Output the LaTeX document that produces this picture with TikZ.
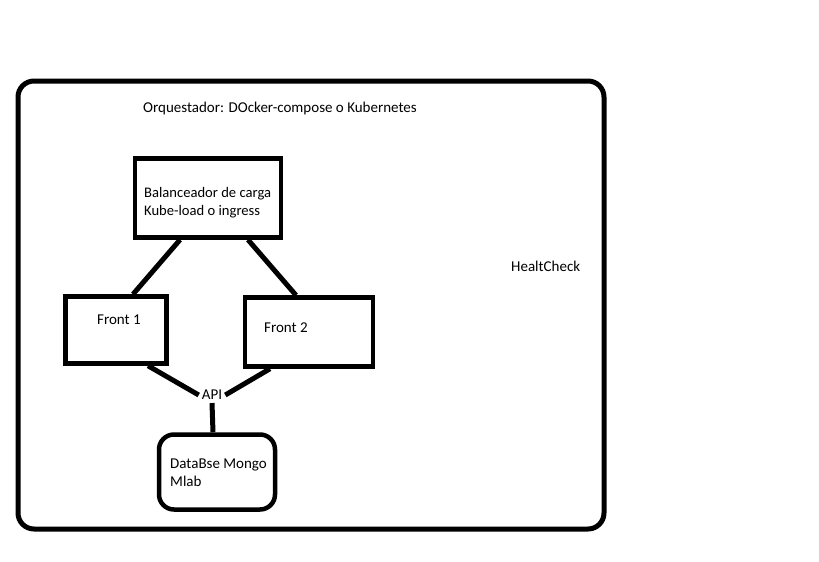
\documentclass[tikz,border=0pt]{standalone}
\usepackage{fontspec}
\setmainfont{Carlito}
\begin{document}
\begin{tikzpicture}[x=1pt,y=-1pt,
  font=\fontsize{15}{18}\selectfont,
  box/.style={draw,line width=4.5pt,inner sep=0pt},
  link/.style={line width=5pt},
  txt/.style={anchor=west,inner sep=0pt,align=left}]
\useasboundingbox (0,0) rectangle (819,562);
\node[box,rounded corners=16pt,line width=5pt,minimum width=586,minimum height=448] (orq) at (311,305) {}; % Orquestador frame
\node[box,minimum width=146,minimum height=79] (bal) at (208,198) {}; % Balanceador
\node[box,minimum width=101,minimum height=67] (f1) at (116,330) {}; % Front 1
\node[box,minimum width=128,minimum height=69] (f2) at (309,332) {}; % Front 2
\node[box,rounded corners=15pt,minimum width=116,minimum height=75] (db) at (217,472) {}; % Database
\node[inner sep=3pt] (api) at (212,395) {API};
\node[txt] (orqtxt) at (143,108) {Orquestador: DOcker-compose o Kubernetes};
\node[txt,font=\fontsize{14.6}{18}\selectfont] (baltxt) at (144,203) {Balanceador de carga\\Kube-load o ingress};
\node[txt] (f1txt) at (97,320) {Front 1};
\node[txt] (f2txt) at (264,328) {Front 2};
\node[txt] (dbtxt) at (170,473) {DataBse Mongo\\Mlab};
\node[txt] (hc) at (511,266) {HealtCheck};
\draw[link] ([xshift=-28pt]bal.south) -- ([xshift=17pt]f1.north);
\draw[link] ([xshift=40pt]bal.south) -- ([xshift=-13pt]f2.north);
\draw[link] ([xshift=32pt]f1.south) -- (api.west);
\draw[link] ([xshift=-39pt]f2.south) -- (api.east);
\draw[link] (api.south) -- ([xshift=-4pt]db.north);
\end{tikzpicture}
\end{document}
